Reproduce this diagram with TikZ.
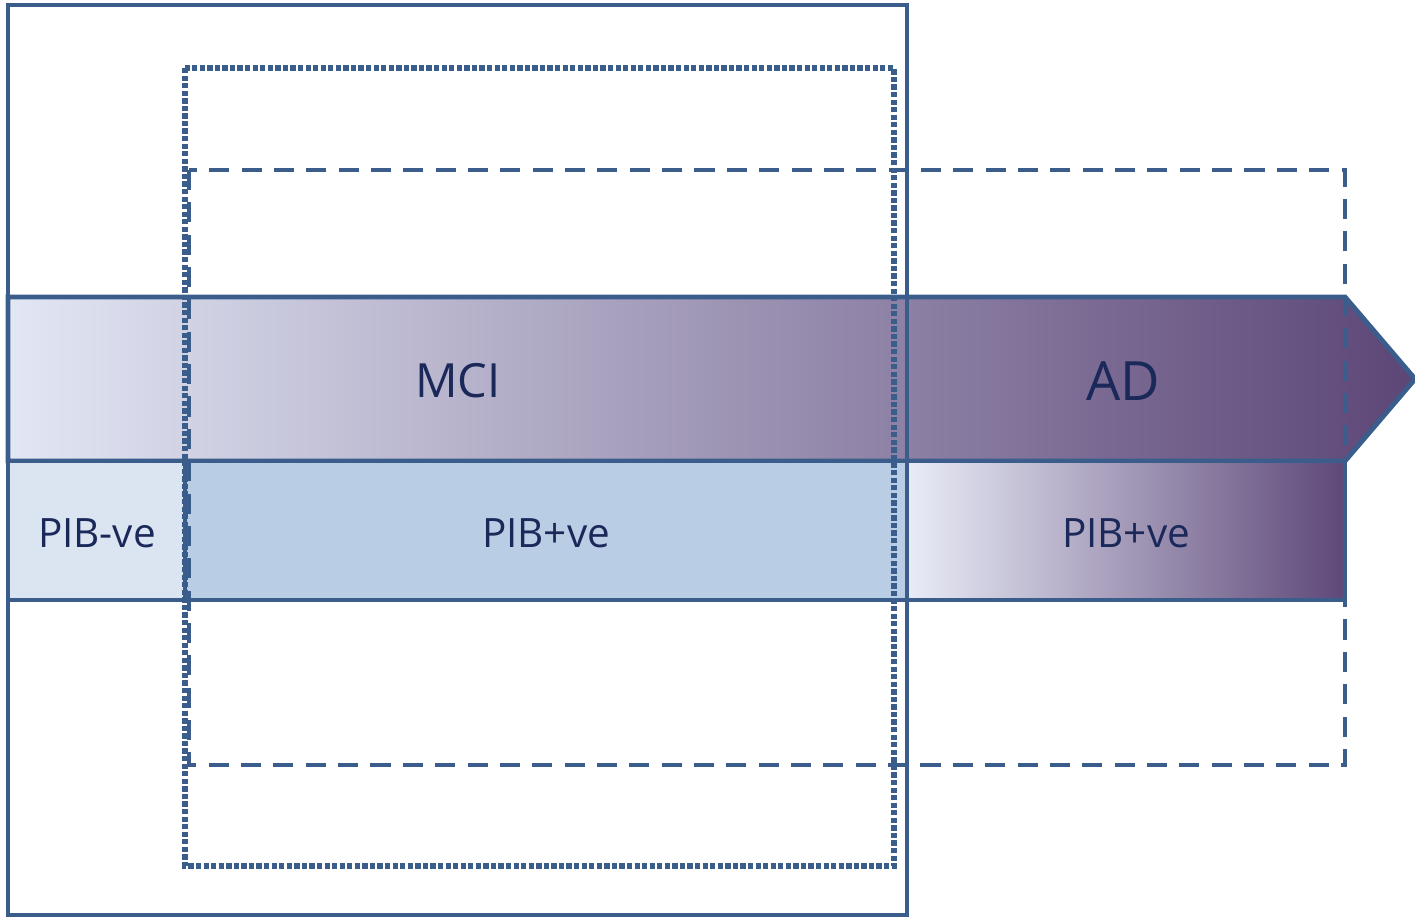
\documentclass[tikz,border=0pt]{standalone}
\usepackage{fontspec}
\setmainfont{Open Sans}
\definecolor{lineblue}{RGB}{58,93,140}
\definecolor{txt}{RGB}{27,40,90}
\definecolor{gradL}{RGB}{226,231,244}
\definecolor{gradR}{RGB}{92,70,119}
\definecolor{pibneg}{RGB}{219,229,241}
\definecolor{pibpos}{RGB}{185,205,228}
\definecolor{cellL}{RGB}{233,236,247}
\definecolor{cellR}{RGB}{94,72,121}
\tikzset{
  solidline/.style={draw=lineblue, line width=1.4pt},
  dottedbox/.style={draw=lineblue, line width=1.5pt, dash pattern=on 1.5pt off 0.65pt},
  dashedbox/.style={draw=lineblue, line width=1.3pt, dash pattern=on 5.7pt off 3.5pt},
  lbl/.style={text=txt, inner sep=0pt, anchor=center},
}
\begin{document}
\begin{tikzpicture}[x=0.01cm,y=-0.01cm]
\useasboundingbox (0,0) rectangle (1415,918);
% arrow band
\draw[solidline, left color=gradL, right color=gradR]
  (8,297) -- (1345,297) -- (1415,379) -- (1345,461) -- (8,461) -- cycle;
% lower row cells
\draw[solidline, fill=pibneg] (8,461) rectangle (185,600);
\draw[solidline, fill=pibpos] (185,461) rectangle (907,600);
\draw[solidline, left color=cellL, right color=cellR] (907,461) rectangle (1345,600);
% frames
\draw[solidline] (8,5) rectangle (907,915);
\draw[dottedbox] (185,68) rectangle (894,866);
\draw[dashedbox] (189,170) rectangle (1345,765);
% labels
\node[lbl, font=\fontsize{13.4}{16}\selectfont] (mci) at (458,381) {MCI};
\node[lbl, font=\fontsize{15.4}{18}\selectfont] (ad) at (1123,381) {AD};
\node[lbl, font=\fontsize{11.5}{14}\selectfont] (neg) at (97,533) {PIB-ve};
\node[lbl, font=\fontsize{11.5}{14}\selectfont] (pos1) at (546,533) {PIB+ve};
\node[lbl, font=\fontsize{11.5}{14}\selectfont] (pos2) at (1126,533) {PIB+ve};
\end{tikzpicture}
\end{document}
